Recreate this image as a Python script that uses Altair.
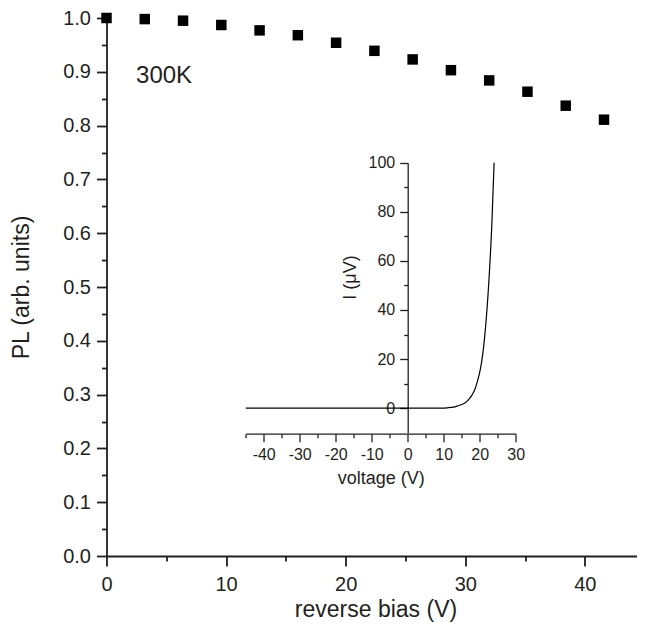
import altair as alt
import pandas as pd

FONT = "Liberation Sans"
INK = "#231f20"

# ---- main data: PL vs reverse bias ----
bias = [0, 3.2, 6.4, 9.6, 12.8, 16.0, 19.2, 22.4, 25.6, 28.8, 32.0, 35.2, 38.4, 41.6, 44.8]
pl = [1.0, 0.998, 0.995, 0.987, 0.977, 0.968, 0.954, 0.939, 0.923, 0.903, 0.884, 0.863, 0.837, 0.811, 0.782]

# ---- inset data: I-V curve ----
iv_voltage = [-45, -30, -15, 0, 5, 9, 11, 12.7, 14, 15.5, 16.8, 17.8, 18.7, 19.3, 20.2, 20.8, 21.75, 22.7, 23.4, 24.0]
iv_current = [0, 0, 0, 0, 0, 0.05, 0.15, 0.4, 1.0, 1.8, 3.3, 5.2, 7.8, 10.6, 16.0, 21.5, 35.1, 55.5, 75.9, 100]

# ---- tick values ----
main_x_ticks = [0, 5, 10, 15, 20, 25, 30, 35, 40]
main_y_ticks = [0.0, 0.05, 0.1, 0.15, 0.2, 0.25, 0.3, 0.35, 0.4, 0.45, 0.5,
                0.55, 0.6, 0.65, 0.7, 0.75, 0.8, 0.85, 0.9, 0.95, 1.0]
inset_x_ticks = [-45, -40, -35, -30, -25, -20, -15, -10, -5, 0, 5, 10, 15, 20, 25, 30]
inset_y_ticks = [0, 10, 20, 30, 40, 50, 60, 70, 80, 90, 100]

annot = {"label": ["300K"], "x": [2.47], "y": [0.892]}

df_pl = pd.DataFrame({"bias": bias, "pl": pl})
df_iv = pd.DataFrame({"v": iv_voltage, "i": iv_current})
df_annot = pd.DataFrame(annot)

minor_y_test = "abs(datum.value*10 - round(datum.value*10)) > 0.01"

x_scale = alt.Scale(domain=[0, 44.36], nice=False, zero=False)
y_scale = alt.Scale(domain=[0, 1], nice=False, zero=False)

x_axis = alt.Axis(values=main_x_ticks, title="reverse bias (V)",
                  labelExpr="datum.value % 10 != 0 ? '' : '' + datum.value",
                  tickSize={"condition": {"test": "datum.value % 10 != 0", "value": 5}, "value": 10},
                  labelFontSize=20, labelPadding=8, labelFlush=False, labelOverlap=False,
                  titleFontSize=23, titleX=269, titleY=53, titleBaseline="middle",
                  titleAlign="center")
y_axis = alt.Axis(values=main_y_ticks, title="PL (arb. units)",
                  labelExpr=minor_y_test + " ? '' : format(datum.value, '.1f')",
                  tickSize={"condition": {"test": minor_y_test, "value": 5}, "value": 10},
                  labelFontSize=20, labelPadding=6, labelFlush=False, labelOverlap=False,
                  titleFontSize=23, titleX=-73, titleY=269, titleAngle=270,
                  titleBaseline="bottom", titleAlign="center")

points = alt.Chart(df_pl).mark_square(size=110, color="black", opacity=1).encode(
    x=alt.X("bias:Q", scale=x_scale, axis=x_axis),
    y=alt.Y("pl:Q", scale=y_scale, axis=y_axis),
)

label = alt.Chart(df_annot).mark_text(align="left", baseline="middle", fontSize=24,
                                      font=FONT, color=INK).encode(
    x=alt.X("x:Q", scale=x_scale, axis=x_axis),
    y=alt.Y("y:Q", scale=y_scale, axis=y_axis),
    text="label:N",
)

main = alt.layer(points, label)

inset = alt.Chart(df_iv).mark_line(color="black", strokeWidth=1.2, interpolate="monotone").encode(
    x=alt.X("v:Q",
            scale=alt.Scale(domain=[-45, 30], range=[139.2, 409.2], nice=False, zero=False),
            axis=alt.Axis(orient="bottom", offset=-122.3, values=inset_x_ticks, title="voltage (V)",
                          labelExpr="datum.value % 10 != 0 ? '' : '' + datum.value",
                          tickSize={"condition": {"test": "datum.value % 10 != 0", "value": 4}, "value": 8},
                          labelFontSize=16, labelPadding=5, labelFlush=False, labelOverlap=False,
                          titleFontSize=18, titlePadding=7, domainWidth=1.3, tickWidth=1.3)),
    y=alt.Y("i:Q",
            scale=alt.Scale(domain=[-10, 100], range=[414.7, 144.7], nice=False, zero=False),
            axis=alt.Axis(orient="left", offset=-301.2, values=inset_y_ticks, title="I (\u03bcV)",
                          labelExpr="datum.value % 20 != 0 ? '' : '' + datum.value",
                          tickSize={"condition": {"test": "datum.value % 20 != 0", "value": 4}, "value": 8},
                          labelFontSize=16, labelPadding=5, labelFlush=False, labelOverlap=False,
                          titleFontSize=18, titleX=-48, titleY=259, titleAngle=270,
                          titleBaseline="bottom", titleAlign="center",
                          domainWidth=1.3, tickWidth=1.3)),
)

chart = alt.layer(main, inset).resolve_scale(
    x="independent", y="independent"
).resolve_axis(
    x="independent", y="independent"
).properties(
    width=530.5, height=538,
    padding={"left": 98.5, "top": 10, "right": 0, "bottom": 68},
    autosize=alt.AutoSizeParams(type="none"),
).configure_view(
    stroke=None
).configure_axis(
    grid=False, domainColor=INK, tickColor=INK, domainWidth=1.8, tickWidth=1.8,
    labelColor=INK, titleColor=INK, labelFont=FONT, titleFont=FONT, titleFontWeight="normal",
)

chart.save("out.html", embed_options={"renderer": "svg", "actions": False})
